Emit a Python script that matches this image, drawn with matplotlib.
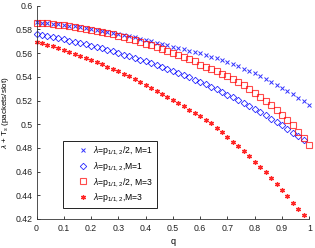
import matplotlib
matplotlib.use("Agg")
import matplotlib.pyplot as plt
from matplotlib.patches import Rectangle

plt.rcParams['font.family'] = ['Liberation Sans', 'DejaVu Sans']
plt.rcParams['mathtext.fontset'] = 'custom'
plt.rcParams['mathtext.rm'] = 'Liberation Sans'
plt.rcParams['mathtext.it'] = 'Liberation Sans:italic'

# q values (0 to 1, step 0.02)
q_full = [0.00, 0.02, 0.04, 0.06, 0.08, 0.10, 0.12, 0.14, 0.16, 0.18,
          0.20, 0.22, 0.24, 0.26, 0.28, 0.30, 0.32, 0.34, 0.36, 0.38,
          0.40, 0.42, 0.44, 0.46, 0.48, 0.50, 0.52, 0.54, 0.56, 0.58,
          0.60, 0.62, 0.64, 0.66, 0.68, 0.70, 0.72, 0.74, 0.76, 0.78,
          0.80, 0.82, 0.84, 0.86, 0.88, 0.90, 0.92, 0.94, 0.96, 0.98, 1.00]
q_short = q_full[:-1]

# lambda = p/2, M = 1 (blue crosses)
y_half_m1 = [0.5860, 0.5856, 0.5852, 0.5847, 0.5842, 0.5837, 0.5831, 0.5825, 0.5818, 0.5812,
             0.5804, 0.5797, 0.5789, 0.5780, 0.5772, 0.5763, 0.5753, 0.5744, 0.5733, 0.5723,
             0.5712, 0.5700, 0.5689, 0.5678, 0.5666, 0.5655, 0.5644, 0.5632, 0.5620, 0.5609,
             0.5597, 0.5584, 0.5570, 0.5555, 0.5540, 0.5524, 0.5507, 0.5489, 0.5470, 0.5450,
             0.5429, 0.5407, 0.5384, 0.5360, 0.5335, 0.5309, 0.5282, 0.5254, 0.5225, 0.5193, 0.5160]

# lambda = p, M = 1 (blue diamonds)
y_full_m1 = [0.5759, 0.5751, 0.5743, 0.5734, 0.5725, 0.5716, 0.5706, 0.5696, 0.5685, 0.5674,
             0.5663, 0.5651, 0.5639, 0.5627, 0.5614, 0.5601, 0.5588, 0.5574, 0.5560, 0.5545,
             0.5530, 0.5515, 0.5499, 0.5483, 0.5466, 0.5449, 0.5431, 0.5413, 0.5395, 0.5376,
             0.5356, 0.5336, 0.5315, 0.5294, 0.5272, 0.5250, 0.5227, 0.5203, 0.5179, 0.5154,
             0.5128, 0.5102, 0.5075, 0.5047, 0.5019, 0.4990, 0.4960, 0.4929, 0.4897, 0.4865]

# lambda = p/2, M = 3 (red squares)
y_half_m3 = [0.5858, 0.5855, 0.5851, 0.5846, 0.5841, 0.5835, 0.5829, 0.5822, 0.5814, 0.5806,
             0.5797, 0.5788, 0.5778, 0.5768, 0.5757, 0.5746, 0.5734, 0.5721, 0.5708, 0.5695,
             0.5681, 0.5667, 0.5652, 0.5637, 0.5621, 0.5605, 0.5588, 0.5571, 0.5553, 0.5535,
             0.5503, 0.5485, 0.5466, 0.5447, 0.5426, 0.5405, 0.5381, 0.5355, 0.5327, 0.5297,
             0.5266, 0.5233, 0.5195, 0.5158, 0.5117, 0.5076, 0.5035, 0.4990, 0.4938, 0.4884, 0.4824]

# lambda = p, M = 3 (red stars)
y_full_m3 = [0.5697, 0.5684, 0.5670, 0.5656, 0.5641, 0.5626, 0.5610, 0.5594, 0.5578, 0.5560,
             0.5543, 0.5524, 0.5506, 0.5486, 0.5467, 0.5446, 0.5425, 0.5403, 0.5380, 0.5357,
             0.5333, 0.5309, 0.5284, 0.5259, 0.5233, 0.5207, 0.5180, 0.5152, 0.5124, 0.5095,
             0.5066, 0.5036, 0.5006, 0.4970, 0.4931, 0.4891, 0.4852, 0.4812, 0.4772, 0.4729,
             0.4685, 0.4640, 0.4594, 0.4546, 0.4497, 0.4446, 0.4393, 0.4339, 0.4284, 0.4234]

labels = [r'$\lambda$=p$_{1/1,2}$/2, M=1',
          r'$\lambda$=p$_{1/1,2}$,M=1',
          r'$\lambda$=p$_{1/1,2}$/2, M=3',
          r'$\lambda$=p$_{1/1,2}$,M=3']

xticks = [0, 0.1, 0.2, 0.3, 0.4, 0.5, 0.6, 0.7, 0.8, 0.9, 1]
xticklabels = ['0', '0.1', '0.2', '0.3', '0.4', '0.5', '0.6', '0.7', '0.8', '0.9', '1']
yticks = [0.42, 0.44, 0.46, 0.48, 0.5, 0.52, 0.54, 0.56, 0.58, 0.6]
yticklabels = ['0.42', '0.44', '0.46', '0.48', '0.5', '0.52', '0.54', '0.56', '0.58', '0.6']

W, H = 315, 248
fig = plt.figure(figsize=(W/100, H/100), dpi=100)
ax = fig.add_axes([36.5/W, 1-219/H, (309.3-36.5)/W, (219-5.7)/H])

blue = '#0000ff'
red = '#ff0000'
ax.plot(q_full, y_half_m1, linestyle='none', marker='x', ms=2.5, mew=0.7,
        color=blue, alpha=0.8, label=labels[0], clip_on=False)
ax.plot(q_short, y_full_m1, linestyle='none', marker='D', ms=3.3, mew=0.6,
        mfc='none', mec=blue, alpha=0.85, label=labels[1], clip_on=False)
ax.plot(q_full, y_half_m3, linestyle='none', marker='s', ms=5.0, mew=0.8,
        mfc='none', mec=red, alpha=0.7, label=labels[2], clip_on=False)
ax.plot(q_short, y_full_m3, linestyle='none', marker=(6, 2, 0), ms=3.5, mew=0.9,
        color=red, alpha=0.85, label=labels[3], clip_on=False)

ax.set_xlim(0, 1)
ax.set_ylim(0.42, 0.6)
ax.set_xticks(xticks)
ax.set_xticklabels(xticklabels)
ax.set_yticks(yticks)
ax.set_yticklabels(yticklabels)
ax.tick_params(direction='in', length=2.5, width=0.6, labelsize=6.3, pad=2.5, colors='#222222')
ax.tick_params(axis='x', pad=3.5)
for s in ['top', 'right']:
    ax.spines[s].set_visible(False)
for s in ['left', 'bottom']:
    ax.spines[s].set_linewidth(0.6)
    ax.spines[s].set_color('#333333')

ax.set_xlabel('q', fontsize=6.5)
ax.xaxis.set_label_coords(0.5, -0.085)
ax.set_ylabel(r'$\lambda$ + T$_s$ (packets/slot)', fontsize=5.8)
ax.yaxis.set_label_coords(-0.095, 0.5)

# legend frame (MATLAB style box)
frame = Rectangle((63/W, 1-208/H), (157-63)/W, (208-141)/H, transform=fig.transFigure,
                  facecolor='white', edgecolor='#222222', linewidth=0.7, zorder=4,
                  clip_on=False)
ax.add_artist(frame)
leg = ax.legend(loc='upper left', bbox_to_anchor=(77.5/W, 1-144.5/H),
                bbox_transform=fig.transFigure, fontsize=6.2, frameon=False,
                borderaxespad=0, borderpad=0,
                handlelength=1.2, handletextpad=0.55, labelspacing=0.38)
leg.set_zorder(5)

fig.savefig('out.png', dpi=100)
